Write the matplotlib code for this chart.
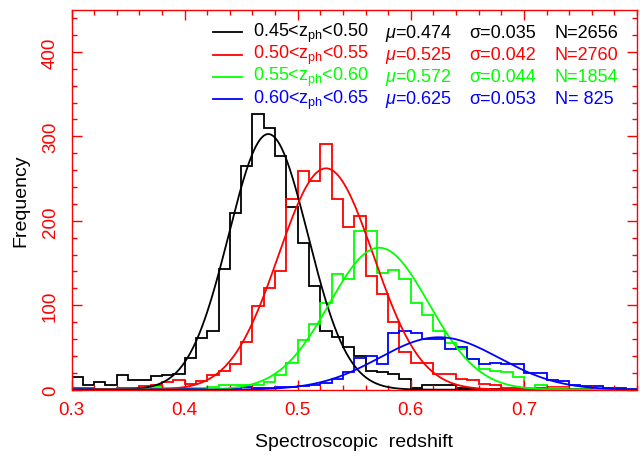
import numpy as np
import matplotlib
matplotlib.use("Agg")
import matplotlib.pyplot as plt

plt.rcParams['font.family'] = ['Liberation Sans', 'DejaVu Sans']
plt.rcParams['mathtext.fontset'] = 'custom'
plt.rcParams['mathtext.rm'] = 'Liberation Sans'
plt.rcParams['mathtext.it'] = 'Liberation Sans:italic'

# histogram bins: 0.30 ... 0.80, width 0.01
bin_lo = 0.30
bin_width = 0.01

black_counts = [15, 6, 9, 6, 18, 11, 12, 16, 18, 19,
                37, 61, 70, 143, 209, 265, 326, 310, 277, 216,
                174, 123, 70, 62, 50, 40, 22, 21, 19, 13,
                2, 5, 5, 5, 2, 1, 0, 1, 0, 0,
                0, 0, 0, 0, 0, 0, 0, 0, 0, 0]
red_counts = [2, 2, 1, 1, 2, 2, 4, 5, 9, 11,
              7, 10, 17, 22, 30, 56, 99, 120, 141, 226,
              259, 247, 291, 226, 193, 206, 135, 113, 80, 45,
              32, 32, 19, 19, 13, 11, 7, 5, 2, 2,
              1, 2, 3, 3, 1, 1, 0, 0, 0, 0]
green_counts = [0, 0, 0, 0, 0, 0, 1, 3, 2, 2,
                2, 2, 3, 5, 5, 6, 6, 9, 17, 32,
                59, 78, 103, 137, 131, 188, 188, 138, 142, 131,
                103, 88, 70, 55, 48, 36, 24, 22, 21, 15,
                2, 6, 2, 2, 1, 1, 0, 0, 0, 0]
blue_counts = [1, 1, 0, 0, 0, 0, 0, 1, 1, 1,
               1, 1, 0, 1, 1, 3, 2, 2, 3, 3,
               4, 6, 8, 13, 21, 38, 40, 31, 67, 70,
               67, 60, 60, 48, 50, 36, 31, 32, 30, 30,
               20, 20, 11, 10, 6, 4, 4, 2, 2, 1]

# gaussian fit parameters (from the legend)
bin_ranges = ['0.45<z$_{\\mathrm{ph}}$<0.50', '0.50<z$_{\\mathrm{ph}}$<0.55',
              '0.55<z$_{\\mathrm{ph}}$<0.60', '0.60<z$_{\\mathrm{ph}}$<0.65']
mu_vals = [0.474, 0.525, 0.572, 0.625]
sigma_vals = [0.035, 0.042, 0.044, 0.053]
n_vals = [2656, 2760, 1854, 825]
n_labels = ['N=2656', 'N=2760', 'N=1854', 'N= 825']
colors = ['black', '#ff0000', '#00ff00', '#0000ff']


def gauss(x, mu, sigma, n):
    amp = n * bin_width / (sigma * np.sqrt(2 * np.pi))
    return amp * np.exp(-0.5 * ((x - mu) / sigma) ** 2)


fig = plt.figure(figsize=(6.4, 4.6), dpi=100)
W, H = 640.0, 460.0
ax = fig.add_axes([71.5 / W, (H - 390.7) / H, 565.5 / W, 380.0 / H])

all_counts = [black_counts, red_counts, green_counts, blue_counts]
edges = bin_lo + bin_width * np.arange(len(black_counts) + 1)
zz = np.linspace(0.3, 0.8, 600)

for counts, mu, sig, n, c in zip(all_counts, mu_vals, sigma_vals, n_vals, colors):
    ax.stairs(counts, edges, color=c, lw=1.3)
    ax.plot(zz, gauss(zz, mu, sig, n), color=c, lw=1.3)

ax.set_xlim(0.3, 0.8)
ax.set_ylim(0, 450)
ax.set_xticks([0.3, 0.4, 0.5, 0.6, 0.7])
ax.set_xticks(np.arange(0.30, 0.801, 0.02), minor=True)
ax.set_yticks([0, 100, 200, 300, 400])
ax.set_yticks(np.arange(0, 451, 20), minor=True)

red = '#ff0000'
for s in ax.spines.values():
    s.set_color(red)
    s.set_linewidth(1.0)
ax.tick_params(which='both', direction='in', colors=red, top=True, right=True,
               labelsize=13.5, width=1.0)
ax.tick_params(which='major', length=7)
ax.tick_params(which='minor', length=3.5)
ax.tick_params(axis='x', pad=8)
ax.tick_params(axis='y', pad=9, labelrotation=90)
for lab in ax.get_yticklabels():
    lab.set_va('center')

ax.set_xlabel('Spectroscopic  redshift', fontsize=14, color='black', labelpad=11)
ax.set_ylabel('Frequency', fontsize=14, color='black', labelpad=9)

# legend block
row_y = [33.3, 55.5, 77.7, 99.9]
for i in range(4):
    fy = 1 - row_y[i] / H
    fig.add_artist(plt.Line2D([213 / W, 242 / W], [fy, fy], color=colors[i], lw=1.3))
    fig.text(253 / W, fy, bin_ranges[i], color=colors[i], fontsize=13, va='center')
    fig.text(385 / W, fy, '$\\mu$=%.3f' % mu_vals[i], color=colors[i], fontsize=13, va='center')
    fig.text(469 / W, fy, 'σ=%.3f' % sigma_vals[i], color=colors[i], fontsize=13, va='center')
    fig.text(555 / W, fy, n_labels[i], color=colors[i], fontsize=13, va='center')

fig.savefig('out.png', dpi=100)
